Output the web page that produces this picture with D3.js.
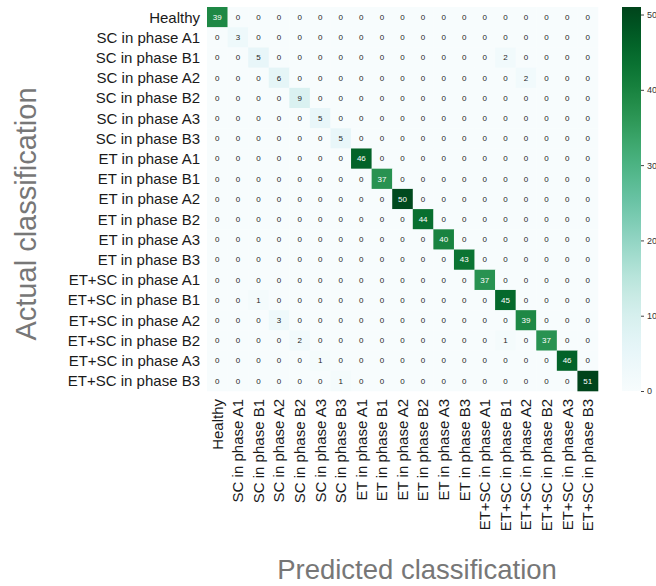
<!DOCTYPE html>
<html>
<head>
<meta charset="utf-8">
<script src="https://cdn.jsdelivr.net/npm/d3@7"></script>
<style>
  body { margin: 0; background: #fff; }
  text { font-family: "Liberation Sans", Arial, sans-serif; }
</style>
</head>
<body>
<svg id="chart" width="656" height="586"></svg>
<script>
const labels = ['Healthy',
  'SC in phase A1', 'SC in phase B1', 'SC in phase A2', 'SC in phase B2', 'SC in phase A3', 'SC in phase B3',
  'ET in phase A1', 'ET in phase B1', 'ET in phase A2', 'ET in phase B2', 'ET in phase A3', 'ET in phase B3',
  'ET+SC in phase A1', 'ET+SC in phase B1', 'ET+SC in phase A2', 'ET+SC in phase B2', 'ET+SC in phase A3', 'ET+SC in phase B3']

// diagonal counts (correct classifications), one per class
const diagonal = [39, 3, 5, 6, 9, 5, 5, 46, 37, 50, 44, 40, 43, 37, 45, 39, 37, 46, 51]
// off-diagonal misclassifications: [actual row, predicted col, count]
const errors = [
  [2, 14, 2],
  [3, 15, 2],
  [14, 2, 1],
  [15, 3, 3],
  [16, 4, 2],
  [16, 14, 1],
  [17, 5, 1],
  [18, 6, 1]
]
const colorTicks = [0, 10, 20, 30, 40, 50]
const vmax = 51

const n = labels.length
const matrix = d3.range(n).map(i => d3.range(n).map(j => (i === j ? diagonal[i] : 0)))
errors.forEach(([r, c, v]) => { matrix[r][c] = v })
const cells = []
matrix.forEach((row, i) => row.forEach((v, j) => cells.push({ i, j, v })))

const plotLeft = 207, plotRight = 598, plotTop = 7, plotBottom = 391
const svg = d3.select('#chart')

const x = d3.scaleBand().domain(d3.range(n)).range([plotLeft, plotRight])
const y = d3.scaleBand().domain(d3.range(n)).range([plotTop, plotBottom])
const color = d3.scaleSequential(d3.interpolateBuGn).domain([0, vmax])

function textColor(v) {
    const c = d3.rgb(color(v))
    const f = u => { u /= 255; return u <= 0.03928 ? u / 12.92 : Math.pow((u + 0.055) / 1.055, 2.4) }
    const lum = 0.2126 * f(c.r) + 0.7152 * f(c.g) + 0.0722 * f(c.b)
    return lum > 0.408 ? '#262626' : '#ffffff'
}

svg.append('g').selectAll('rect')
    .data(cells)
    .enter()
    .append('rect')
    .attr('x', d => x(d.j))
    .attr('y', d => y(d.i))
    .attr('width', x.bandwidth() + 0.3)
    .attr('height', y.bandwidth() + 0.3)
    .attr('fill', d => color(d.v))

svg.append('g').selectAll('text')
    .data(cells)
    .enter()
    .append('text')
    .attr('x', d => x(d.j) + x.bandwidth() / 2)
    .attr('y', d => y(d.i) + y.bandwidth() / 2)
    .attr('dy', '0.35em')
    .attr('text-anchor', 'middle')
    .attr('font-size', '8px')
    .attr('fill', d => textColor(d.v))
    .text(d => d.v)

// row labels
svg.append('g').selectAll('text')
    .data(labels)
    .enter()
    .append('text')
    .attr('x', 200)
    .attr('y', (d, i) => y(i) + y.bandwidth() / 2)
    .attr('dy', '0.36em')
    .attr('text-anchor', 'end')
    .attr('font-size', '15px')
    .attr('fill', '#1a1a1a')
    .text(d => d)

// column labels
svg.append('g').selectAll('text')
    .data(labels)
    .enter()
    .append('text')
    .attr('transform', (d, i) => `translate(${x(i) + x.bandwidth() / 2},399) rotate(-90)`)
    .attr('dy', '0.36em')
    .attr('text-anchor', 'end')
    .attr('font-size', '15px')
    .attr('fill', '#1a1a1a')
    .text(d => d)

// axis titles
svg.append('text')
    .attr('x', 417)
    .attr('y', 579)
    .attr('text-anchor', 'middle')
    .attr('font-size', '27.5px')
    .attr('fill', '#777777')
    .text('Predicted classification')

svg.append('text')
    .attr('transform', 'translate(36,214) rotate(-90)')
    .attr('text-anchor', 'middle')
    .attr('font-size', '29px')
    .attr('fill', '#777777')
    .text('Actual classification')

// colorbar
const cbLeft = 622, cbWidth = 19
const cy = d3.scaleLinear().domain([0, vmax]).range([plotBottom, plotTop])
const defs = svg.append('defs')
const grad = defs.append('linearGradient')
    .attr('id', 'cbgrad')
    .attr('x1', 0).attr('y1', 1).attr('x2', 0).attr('y2', 0)
grad.selectAll('stop')
    .data(d3.range(0, 1.0001, 0.05))
    .enter()
    .append('stop')
    .attr('offset', d => d)
    .attr('stop-color', d => color(d * vmax))
svg.append('rect')
    .attr('x', cbLeft)
    .attr('y', plotTop)
    .attr('width', cbWidth)
    .attr('height', plotBottom - plotTop)
    .attr('fill', 'url(#cbgrad)')

const cbAxis = d3.axisRight(cy).tickValues(colorTicks).tickSize(3).tickPadding(3)
const cbG = svg.append('g')
    .attr('transform', `translate(${cbLeft + cbWidth},0)`)
    .call(cbAxis)
cbG.select('.domain').remove()
cbG.selectAll('line').attr('stroke', '#444')
cbG.selectAll('text').attr('font-size', '9px').attr('fill', '#333')
    .attr('font-family', '"Liberation Sans", Arial, sans-serif')
</script>
</body>
</html>
